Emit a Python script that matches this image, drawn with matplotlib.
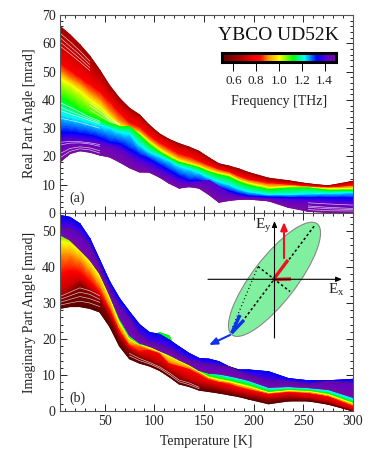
#!/usr/bin/env python3
"""Real and imaginary Kerr angle of YBCO UD52K against temperature, coloured by frequency."""

import numpy as np
import matplotlib
matplotlib.use("Agg")
import matplotlib.pyplot as plt
from matplotlib.colors import LinearSegmentedColormap, Normalize
from matplotlib.patches import Ellipse

plt.rcParams["font.family"] = ["Liberation Serif", "DejaVu Serif"]
plt.rcParams["mathtext.fontset"] = "custom"
plt.rcParams["mathtext.rm"] = "Liberation Serif"

temperature = [5, 15, 25, 35, 45, 55, 65, 75, 85, 95, 105, 115, 125, 135, 145,
               155, 165, 175, 185, 195, 215, 235, 255, 275, 300]

# panel (a): curves read at these frequencies, THz
real_freqs = [0.64, 0.72, 0.78, 0.90, 1.00, 1.12, 1.22, 1.33, 1.41, 1.46, 1.50]
real_050 = [66, 63, 59.5, 55.5, 50.5, 45, 40.5, 37, 34.7, 31, 28, 26, 24.5, 23.3, 21.8, 19.5, 17.4, 16.6, 15.6, 14.3, 12.3, 11.4, 10.3, 9.6, 11.2]
real_065 = [58, 56, 53, 50, 46.5, 42, 38, 35, 33, 29.8, 27, 25, 23, 22, 20.5, 18.3, 16.4, 15.5, 14.4, 13.2, 11.2, 10.6, 9.9, 9.3, 10.6]
real_078 = [53, 50.5, 48, 45.5, 43, 39.5, 35.5, 32, 30.5, 27.5, 25, 23, 21, 20, 18.5, 17, 15.6, 14.7, 13.2, 12, 10.8, 10.2, 9.5, 9, 9.9]
real_090 = [50, 47.5, 45.5, 42.5, 40, 36, 32.5, 30.5, 29, 26, 23.5, 21.5, 19.5, 18.5, 17.3, 16, 14.8, 14, 12.3, 11.2, 9.9, 9.7, 9.2, 8.8, 9.3]
real_100 = [47.5, 45.5, 43, 40, 37.5, 34, 30.8, 29.5, 28.2, 25.2, 22.5, 20.3, 18.5, 17.5, 16.5, 15, 14, 13.4, 11.6, 10.5, 9, 9.2, 9, 8.5, 8.7]
real_112 = [41, 39, 36.5, 34.5, 33, 31.5, 30.5, 30.5, 27.5, 24, 21.5, 19.5, 17.8, 17, 16, 14.5, 13.5, 12.6, 11, 9.7, 8.2, 8.8, 8.9, 8, 8]
real_122 = [35, 34, 33, 32, 31, 30, 28.5, 28, 24, 21.5, 20, 18.5, 16.5, 15.5, 14.2, 12.5, 11, 10, 8.5, 7.5, 6.5, 6.5, 6.8, 6.9, 7.3]
real_133 = [28.5, 28.5, 28, 27.5, 26.5, 25, 24.5, 22.5, 20.5, 19, 17, 15, 13, 11.5, 11.5, 10.5, 9, 7.8, 6.8, 6, 5.6, 5.5, 5.5, 5.5, 5.3]
real_140 = [26, 26.2, 26, 25.5, 25, 24, 23, 20.5, 18.5, 16.8, 15, 13.2, 11.5, 10.5, 11, 11.5, 9.3, 7, 5.8, 5.5, 5, 4.6, 4.3, 4, 3.5]
real_145 = [22.5, 24, 24.3, 24, 23, 22.3, 21, 18.8, 16.5, 15.2, 13.5, 11.7, 10, 9.7, 9.8, 8.5, 6, 5.3, 5.3, 5.2, 4.7, 3.3, 3, 2.6, 2]
real_150 = [18, 21, 22, 21.5, 20.5, 19.8, 18, 16, 14.5, 14.4, 12.7, 10.5, 8.8, 9.3, 8.8, 6.5, 3.8, 4.4, 4.8, 4.9, 4.3, 2, 0.6, 0.2, 0.2]
real_curves = [real_050, real_065, real_078, real_090, real_100, real_112,
               real_122, real_133, real_140, real_145, real_150]

# panel (b)
imag_freqs = [0.50, 0.60, 0.70, 0.78, 0.90, 1.00, 1.12, 1.22, 1.33, 1.42, 1.50]
imag_050 = [28.5, 29, 29, 28.5, 27.5, 23.5, 18, 14.5, 13.3, 12.5, 11.3, 9.5, 7.5, 6.8, 5.8, 5.4, 5, 4.5, 4, 3.3, 2, 2.8, 2.8, 1.9, 0]
imag_062 = [31, 33, 35.5, 33, 31, 26, 20, 16.5, 15, 13.7, 12.3, 10.5, 9, 8, 7, 6.4, 5.9, 5.3, 4.6, 4, 3, 3.6, 3.3, 2.3, 0.2]
imag_072 = [33, 35, 36.5, 34.5, 32, 27, 21, 17.5, 15.8, 15, 13.7, 12, 10.3, 9, 8, 7.5, 6.8, 6, 5.4, 4.8, 3.8, 4.3, 3.8, 2.8, 0.4]
imag_082 = [38, 39, 38.5, 36, 33, 28, 22, 18, 16.5, 17, 16, 13, 12.3, 11.5, 10, 8.5, 8, 7.3, 6.5, 5.8, 4.8, 5.3, 5, 4, 1.2]
imag_090 = [43.5, 43.5, 42, 39, 35, 29.5, 23, 18.8, 18.2, 17.2, 16.3, 13.6, 12.8, 12, 10.7, 9.2, 8.3, 8, 7, 6.3, 5, 5.5, 5.2, 4.3, 1.8]
imag_100 = [47, 46.5, 44.5, 41.5, 37.5, 31.5, 24.5, 20, 18.6, 17.5, 16.5, 15.3, 14, 12.6, 11, 9.4, 8.7, 8.2, 7.5, 6.8, 5.2, 5.7, 5.5, 4.6, 2.1]
imag_112 = [49, 49.5, 46, 42.3, 38.3, 32.3, 25.3, 20.5, 18.7, 18, 21.8, 20.8, 14.2, 12.9, 11.3, 9.8, 9.2, 8.7, 8, 7.3, 5.5, 6, 5.8, 5, 2.5]
imag_122 = [49.2, 49.5, 46.5, 42.6, 38.6, 32.5, 25.6, 20.8, 18.8, 18.3, 16.8, 15.6, 14.2, 12.9, 11.3, 10.7, 10.2, 9.5, 9, 8.3, 6.3, 6.5, 6.2, 5.5, 3.3]
imag_133 = [54.3, 53.8, 52, 47.9, 41.9, 35.9, 31.2, 27.5, 24, 21.8, 21.3, 19.7, 17.8, 16, 14.6, 14.4, 13.7, 12.3, 11.4, 11.4, 10.9, 9, 8.4, 8.4, 8.8]
imag_142 = [50.6, 50.6, 48.8, 46, 40, 33.5, 28.9, 25.5, 21, 19, 18.2, 17.2, 15.5, 14, 13.3, 12.7, 12.3, 12.2, 11, 9.8, 8.2, 8, 7.3, 8.2, 7.5]
imag_150 = [49, 47.5, 44.8, 42, 38.2, 32.2, 25.7, 21, 18.9, 18, 16.8, 15.6, 14.2, 12.9, 11.3, 10.5, 10.3, 9.8, 9.2, 8.5, 6.6, 6.8, 6.5, 6, 3.8]
imag_curves = [imag_050, imag_062, imag_072, imag_082, imag_090, imag_100,
               imag_112, imag_122, imag_133, imag_142, imag_150]

# thin pale gaps where the measured curves spread apart
gap_t_low = [5, 15, 25, 35]
gap_a_dark = [[63.6, 60.6, 57.3, 53.7], [62, 59, 55.9, 52.5], [60.5, 57.6, 54.6, 51.4], [59, 56.3, 53.4, 50.4]]
gap_t_a_cyan = [5, 15, 25, 35, 45]
gap_a_cyan = [[39, 37.5, 35.7, 33.9, 32.5], [37.5, 36, 34.7, 33.3, 32], [36.3, 35, 33.9, 32.7, 31.5], [33.5, 32.8, 32, 31, 30]]
gap_t_a_yellow = [35, 45, 55, 65]
gap_a_yellow = [[39, 36.5, 33.2, 31.5], [38, 35.5, 32.8, 31.3], [36.5, 34.3, 32.3, 31.1]]
gap_a_violet = [[25, 25.3, 25.2, 24.8, 24.2], [24, 24.7, 24.8, 24.4, 23.6], [21, 22.8, 23.4, 23, 22], [19.5, 21.8, 22.7, 22.3, 21.2]]
gap_t_a_high = [255, 275, 300]
gap_a_high = [[1.2, 0.8, 0.7], [2, 1.5, 1.2], [2.5, 2, 1.6], [3.6, 3.2, 2.8]]
gap_t_b_low = [5, 15, 25, 35, 45]
gap_b_low = [[29.4, 30, 30.5, 30, 29], [30.2, 31, 31.8, 31.2, 30.2], [31, 32, 33, 32.4, 31], [31.8, 33, 34.2, 33.4, 32]]
gap_t_b_mid = [75, 85, 95, 105, 115, 125, 135, 145]
gap_b_mid = [[15.3, 14, 13.1, 11.9, 10.1, 8.1, 7.3, 6.2], [16, 14.6, 13.5, 12.3, 10.6, 8.6, 7.8, 6.6]]

freq_ticks = [0.6, 0.8, 1.0, 1.2, 1.4]

# colour stops taken off the colour bar
freq_cmap = LinearSegmentedColormap.from_list("freq", [
    (0.00, "#5a0000"), (0.15, "#a80000"), (0.28, "#ff0000"), (0.34, "#ff1000"),
    (0.40, "#ff9000"), (0.50, "#ffff00"), (0.62, "#00ff00"), (0.72, "#00ffff"),
    (0.83, "#0000ff"), (0.92, "#6000d0"), (1.00, "#7a0aa0")])
freq_norm = Normalize(0.5, 1.5)

W, H = 382, 472
fig = plt.figure(figsize=(W / 100, H / 100), dpi=100)


def px_axes(left, top, right, bottom):
    return fig.add_axes([left / W, 1 - bottom / H, (right - left) / W, (bottom - top) / H])


def draw_family(ax, freqs, curves):
    # one gouraud strip between each neighbouring pair of curves, low frequency first
    t = np.array(temperature, float)
    for i in range(len(freqs) - 1):
        xx = np.vstack([t, t])
        yy = np.vstack([curves[i], curves[i + 1]])
        cc = np.vstack([np.full(t.size, freqs[i]), np.full(t.size, freqs[i + 1])])
        ax.pcolormesh(xx, yy, cc, shading="gouraud", cmap=freq_cmap, norm=freq_norm,
                      zorder=2 + i * 0.01)
    for i, (f, c) in enumerate(zip(freqs, curves)):
        ax.plot(t, c, color=freq_cmap(freq_norm(f)), lw=0.6, zorder=2 + i * 0.01 + 0.005)


def draw_gaps(ax, ts, rows):
    for row in rows:
        ax.plot(ts, row, color="white", lw=0.45, alpha=0.8, zorder=3)


def style_axes(ax, ymax):
    ax.set_xlim(5, 300)
    ax.set_ylim(0, ymax)
    ax.set_xticks(range(50, 301, 50))
    ax.set_xticks(range(10, 301, 10), minor=True)
    ax.set_yticks(range(0, ymax + 1, 10))
    ax.set_yticks(range(0, ymax + 1, 2), minor=True)
    ax.tick_params(which="major", direction="in", top=True, right=True, length=5,
                   width=0.7, labelsize=10, pad=3, color="#222222", labelcolor="#222222")
    ax.tick_params(which="minor", direction="in", top=True, right=True, length=2.2,
                   width=0.7, color="#222222")
    for s in ax.spines.values():
        s.set_linewidth(0.8)
        s.set_color("#555555")
        s.set_zorder(5)


ax_a = px_axes(60, 15, 353, 213)
draw_family(ax_a, real_freqs, real_curves)
draw_gaps(ax_a, gap_t_low, gap_a_dark)
draw_gaps(ax_a, gap_t_a_cyan, gap_a_cyan)
draw_gaps(ax_a, gap_t_a_yellow, gap_a_yellow)
draw_gaps(ax_a, gap_t_a_cyan, gap_a_violet)
draw_gaps(ax_a, gap_t_a_high, gap_a_high)
style_axes(ax_a, 70)
ax_a.tick_params(labelbottom=False)

ax_b = px_axes(60, 213, 353, 411)
draw_family(ax_b, imag_freqs, imag_curves)
ax_b.plot(temperature, imag_142, color="#5c1282", lw=1.0, zorder=2.2)
draw_gaps(ax_b, gap_t_b_low, gap_b_low)
draw_gaps(ax_b, gap_t_b_mid, gap_b_mid)
style_axes(ax_b, 55)
ax_b.set_yticks(range(0, 51, 10))

txt = "#222222"
fig.text(30 / W, 1 - 113 / H, "Real Part Angle [mrad]", rotation=90, ha="center", va="center", fontsize=10, color=txt)
fig.text(30 / W, 1 - 312 / H, "Imaginary Part Angle [mrad]", rotation=90, ha="center", va="center", fontsize=10, color=txt)
fig.text(206 / W, 1 - 442 / H, "Temperature [K]", ha="center", va="center", fontsize=10, color=txt)
fig.text(77 / W, 1 - 198 / H, "(a)", ha="center", va="center", fontsize=10, color=txt)
fig.text(77 / W, 1 - 398 / H, "(b)", ha="center", va="center", fontsize=10, color=txt)
fig.text(278 / W, 1 - 35 / H, "YBCO UD52K", ha="center", va="center", fontsize=14, color="#111111")

# colour bar
cax = px_axes(222, 53, 336, 62)
grad = np.linspace(0.5, 1.5, 256)
cax.pcolormesh(grad, [0, 1], np.vstack([grad[:-1]]), cmap=freq_cmap, norm=freq_norm)
cax.set_yticks([])
cax.set_xticks(freq_ticks)
cax.set_xticklabels([f"{v:.1f}" for v in freq_ticks])
cax.tick_params(axis="x", direction="out", length=6.5, width=0.7, labelsize=9.5, pad=2.5, labelcolor=txt)
for s in cax.spines.values():
    s.set_linewidth(2.2)
fig.text(279 / W, 1 - 102 / H, "Frequency [THz]", ha="center", va="center", fontsize=10, color=txt)

# polarisation ellipse, drawn in pixel coordinates on top of panel (b)
ov = fig.add_axes([0, 0, 1, 1], facecolor="none")
ov.set_xlim(0, W)
ov.set_ylim(H, 0)
ov.axis("off")
ov.add_patch(Ellipse((274.5, 279.3), 140, 44, angle=-52.5, fc="#80f0a0", ec="#888888", lw=0.8, zorder=1))


def line(x0, y0, x1, y1, **kw):
    ov.plot([x0, x1], [y0, y1], **kw)


def arrow(x0, y0, x1, y1, color, lw, head=4):
    ov.annotate("", xy=(x1, y1), xytext=(x0, y0),
                arrowprops=dict(arrowstyle=f"-|>,head_length={head * 0.12},head_width={head * 0.05}",
                                color=color, lw=lw, shrinkA=0, shrinkB=0), zorder=4)


line(245, 318, 315, 225, color="k", lw=1.1, ls=(0, (1.6, 1.6)), zorder=2)
line(258, 266.5, 290, 291.5, color="k", lw=1.1, ls=(0, (1.6, 1.6)), zorder=2)
line(232.7, 327, 258, 266.5, color="k", lw=0.9, ls=(0, (0.8, 2.2)), zorder=2)
arrow(208, 279.3, 342, 279.3, "k", 0.8, 3)
arrow(274.5, 338, 274.5, 221, "k", 0.8, 3)
# red vectors
line(273, 279.5, 291, 279, color="#f01020", lw=2.4, zorder=3, solid_capstyle="butt")
line(273, 280, 288, 260, color="#f01020", lw=2.4, zorder=3, solid_capstyle="butt")
arrow(284, 258, 284, 222, "#f01020", 1.5, 4)
# blue vectors
line(231.7, 333, 240, 315, color="#1030f0", lw=2.4, zorder=3, solid_capstyle="butt")
line(231.7, 333, 244, 320, color="#1030f0", lw=2.4, zorder=3, solid_capstyle="butt")
arrow(230, 335, 209, 345, "#1030f0", 1.5, 4)

ov.text(263, 226, r"$\mathrm{E_y}$", ha="center", va="center", fontsize=11, color=txt)
ov.text(336, 290, r"$\mathrm{E_x}$", ha="center", va="center", fontsize=11, color=txt)

fig.savefig("out.png", dpi=100)
